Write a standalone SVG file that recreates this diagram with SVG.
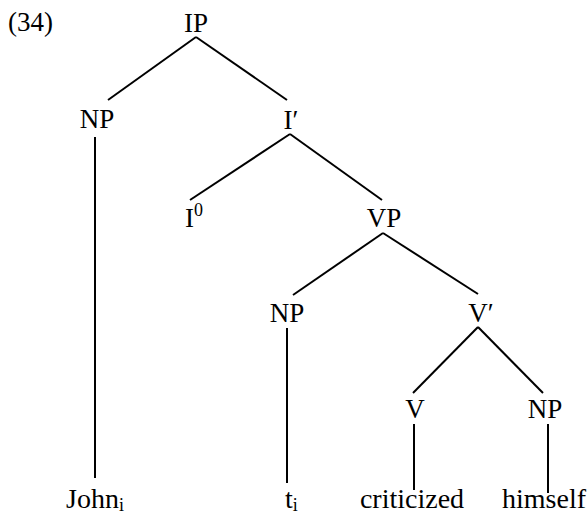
<svg xmlns="http://www.w3.org/2000/svg" width="588" height="517" viewBox="0 0 588 517">
<style>
text{font-family:"Liberation Serif","Times New Roman",serif;font-size:27px;fill:#000}
.m{text-anchor:middle}
.w{font-size:28px}
.sub{font-size:18px}
#edges line{stroke:#000;stroke-width:2;stroke-linecap:butt}
</style>
<rect width="588" height="517" fill="#fff"/>
<text x="8" y="31" font-size="26">(34)</text>
<g id="edges">
<line x1="196" y1="37" x2="108" y2="100"/>
<line x1="196" y1="37" x2="287" y2="100"/>
<line x1="95" y1="137" x2="95" y2="478"/>
<line x1="290" y1="134" x2="190" y2="200"/>
<line x1="290" y1="134" x2="382" y2="200"/>
<line x1="383" y1="233" x2="293" y2="295"/>
<line x1="383" y1="233" x2="478" y2="294"/>
<line x1="287" y1="328" x2="287" y2="483"/>
<line x1="478" y1="327" x2="413" y2="393"/>
<line x1="478" y1="327" x2="543" y2="393"/>
<line x1="414" y1="424" x2="414" y2="490"/>
<line x1="548" y1="424" x2="548" y2="493"/>
</g>
<g id="IP"><text class="m" x="196" y="32">IP</text></g>
<g id="NP1"><text class="m" x="97" y="128">NP</text></g>
<g id="Ibar"><text class="m" x="291" y="129">I′</text></g>
<g id="I0"><text x="185" y="227">I<tspan font-size="18" dy="-11">0</tspan></text></g>
<g id="VP"><text class="m" x="384" y="227">VP</text></g>
<g id="NP2"><text class="m" x="287" y="322">NP</text></g>
<g id="Vbar"><text class="m" x="481" y="322">V′</text></g>
<g id="V"><text class="m" x="415" y="418">V</text></g>
<g id="NP3"><text class="m" x="545" y="418">NP</text></g>
<g id="John"><text class="w" x="66" y="508">John<tspan class="sub" dy="3">i</tspan></text></g>
<g id="t"><text class="w" x="285" y="508">t<tspan class="sub" dy="3">i</tspan></text></g>
<g id="criticized"><text class="m w" x="412" y="508">criticized</text></g>
<g id="himself"><text class="m w" x="544" y="508">himself</text></g>
</svg>
